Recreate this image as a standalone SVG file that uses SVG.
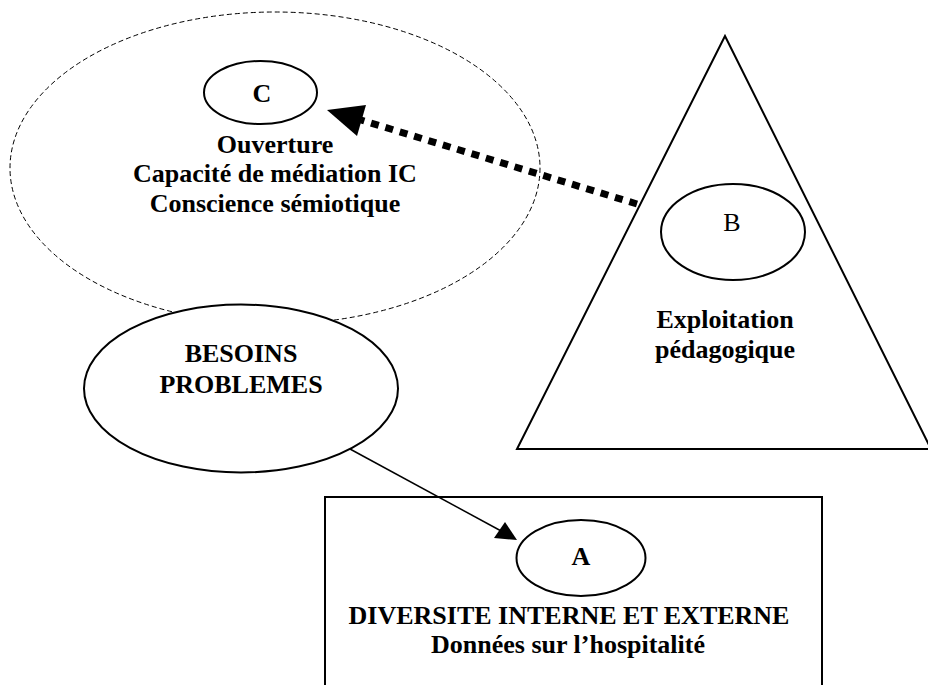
<svg xmlns="http://www.w3.org/2000/svg" width="928" height="685" viewBox="0 0 928 685">
<style>
.shape{fill:none;stroke:#000;stroke-width:2}
.dash{fill:none;stroke:#000;stroke-width:1;stroke-dasharray:5 3}
.t{font-family:"Liberation Serif","Times New Roman",serif;font-size:26px;font-weight:bold;text-anchor:middle;fill:#000}
.r{font-weight:normal}
</style>
<rect width="928" height="685" fill="#fff"/>
<g id="zone-c">
<ellipse class="dash" cx="275" cy="168" rx="265" ry="156"/>
</g>
<g id="triangle-b">
<polygon class="shape" points="725,36 517,449 931,449"/>
</g>
<g id="rect-a">
<rect class="shape" x="325" y="497" width="497" height="200"/>
</g>
<g id="node-besoins">
<ellipse class="shape" cx="241" cy="388.5" rx="157" ry="84" fill="#fff" style="fill:#fff"/>
<text class="t" x="241" y="362">BESOINS</text>
<text class="t" x="241" y="393">PROBLEMES</text>
</g>
<g id="node-c">
<ellipse class="shape" cx="260.5" cy="92.5" rx="56.5" ry="31.5"/>
<text class="t" x="262" y="102">C</text>
<text class="t" x="275" y="153">Ouverture</text>
<text class="t" x="275" y="182">Capacité de médiation IC</text>
<text class="t" x="275" y="212">Conscience sémiotique</text>
</g>
<g id="node-b">
<ellipse class="shape" cx="733" cy="232" rx="72" ry="48"/>
<text class="t r" x="732" y="231">B</text>
<text class="t" x="725" y="328">Exploitation</text>
<text class="t" x="725" y="358">pédagogique</text>
</g>
<g id="node-a">
<ellipse class="shape" cx="581" cy="558" rx="64.5" ry="38"/>
<text class="t" x="581" y="565">A</text>
<text class="t" x="569" y="624">DIVERSITE INTERNE ET EXTERNE</text>
<text class="t" x="568" y="653">Données sur l’hospitalité</text>
</g>
<g id="connectors">
<line x1="637" y1="204" x2="361" y2="120" stroke="#000" stroke-width="7" stroke-dasharray="8 7"/>
<polygon points="327,110 366,105 357,136" fill="#000"/>
<line x1="350" y1="449" x2="503" y2="532" stroke="#000" stroke-width="1.5"/>
<polygon points="517,540 494,538 505,522" fill="#000"/>
</g>
</svg>
